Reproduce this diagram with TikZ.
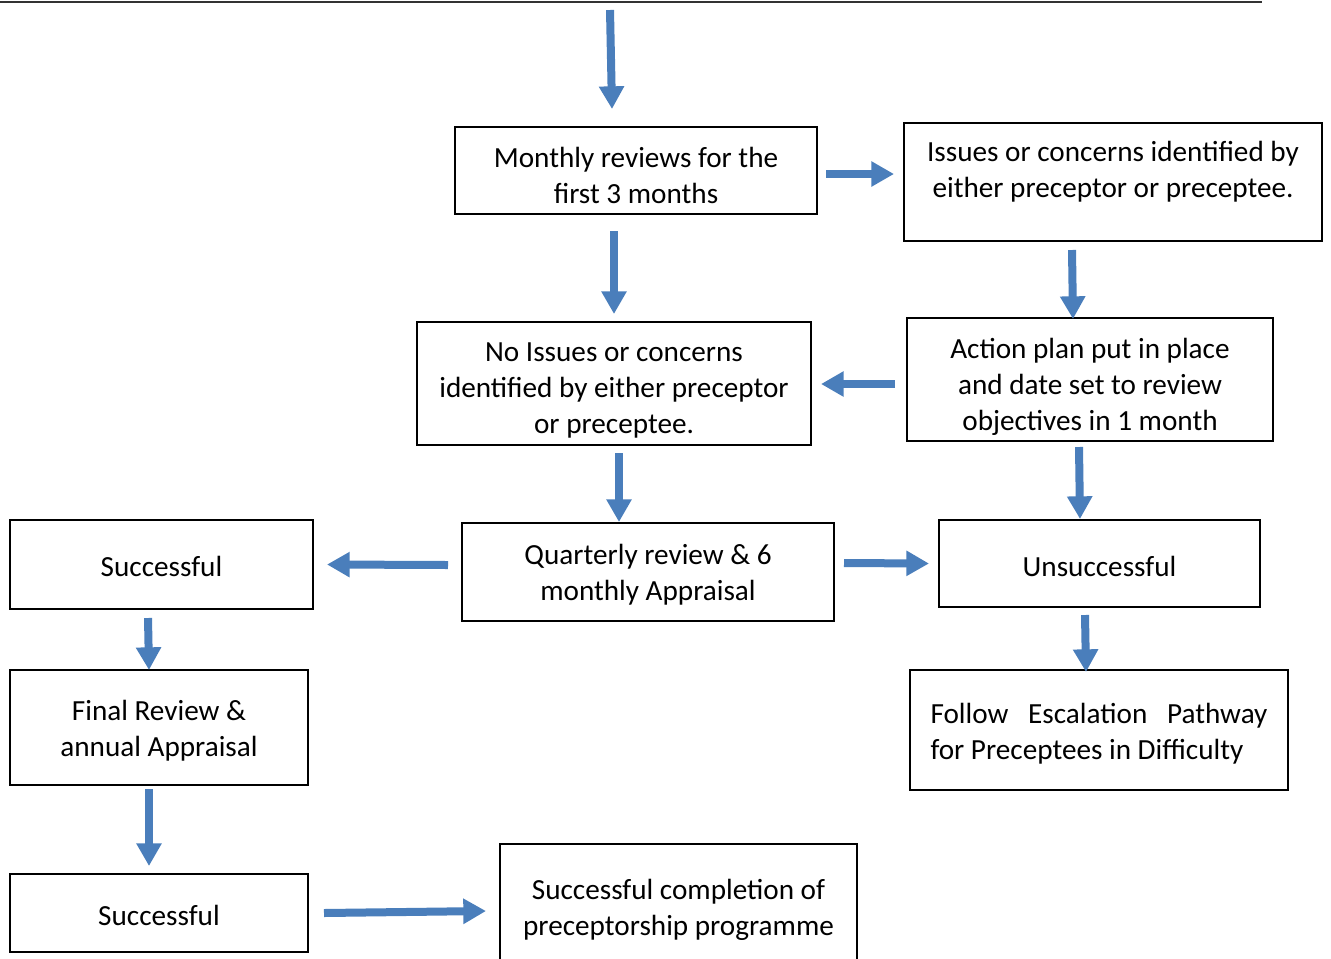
\documentclass[tikz,border=0pt]{standalone}
\usepackage{fontspec}
\setmainfont{Carlito}
\usepackage{tikz}
\usetikzlibrary{positioning,calc,arrows.meta}
\definecolor{FlowBlue}{RGB}{74,126,187}

\begin{document}
\begin{tikzpicture}[x=0.75pt, y=-0.75pt,
                % Style hộp
                box/.style={draw=black, line width=1.5pt, align=center, inner sep=0pt, text depth=0pt, font=\fontsize{21.9}{27}\selectfont},
                bsize/.style 2 args={minimum width=#1*0.75pt, minimum height=#2*0.75pt},
                lowtext/.style={execute at begin node={\rule{0pt}{#1}}},
                lowtext/.default=19pt,
                boxtext/.style={align=center, inner sep=0pt, font=\fontsize{21.9}{27}\selectfont},
                % Style mũi tên
                arrowedge/.style={-{Triangle[width=18pt, length=17pt]}, draw=FlowBlue, line width=6pt}
            ]
                \clip (0,0) rectangle (1331,958);

                % --- DÒNG TRÊN CÙNG ---
                \coordinate (topl) at (0,2);
                \coordinate (topr) at (1262,2);
                \coordinate (start) at (610,10);
                \draw[line width=1.5pt, draw=black!80] (topl) -- (topr);

                % --- CÁC HỘP ---
                % Cột giữa
                \node[box, text height=49pt, bsize={362}{87}] (mon) at (636,170.5) {Monthly reviews for the\\first 3 months};
                \node[box, text height=74.5pt, bsize={394}{123}] (noiss) at (614,383.5) {No Issues or concerns\\identified by either preceptor\\or preceptee.};
                \node[box, bsize={372}{98}] (quart) at (648,572) {Quarterly review \& 6\\monthly Appraisal};
                \node[box, bsize={357}{126}] (compl) at (678.5,907) {Successful completion of\\preceptorship programme};

                % Cột phải
                \node[box, bsize={418}{118}] (iss) at (1113,182) {};
                \node[boxtext, anchor=north] (isstext) at (1113,141) {Issues or concerns identified by\\either preceptor or preceptee.};
                \node[box, text height=76pt, bsize={366}{123}] (act) at (1090,379.5) {Action plan put in place\\and date set to review\\objectives in 1 month};
                \node[box, lowtext, bsize={321}{87}] (unsucc) at (1099.5,563.5) {Unsuccessful};
                \node[box, text height=44.5pt, bsize={378}{120}, align=left] (esc) at (1099,730) {\makebox[252.75pt][s]{Follow Escalation Pathway}\\for Preceptees in Difficulty};

                % Cột trái
                \node[box, lowtext=17.5pt, bsize={303}{89}] (succ) at (161.5,564.5) {Successful};
                \node[box, text height=44pt, bsize={298}{115}] (final) at (159,727.5) {Final Review \&\\annual Appraisal};
                \node[box, lowtext, bsize={298}{78}] (succb) at (159,913) {Successful};

                % --- MŨI TÊN ---
                \draw[arrowedge] (start) -- ($(mon.north)+(-24,-17)$);
                \draw[arrowedge] ($(mon.east)+(8,3.5)$) -- ($(iss.west)+(-9,-8)$);
                \draw[arrowedge] ($(mon.south)+(-22,16)$) -- ($(noiss.north)+(0,-7)$);
                \draw[arrowedge] ($(iss.south)+(-41,8)$) -- ($(act.north)+(-17,2)$);
                \draw[arrowedge] ($(act.west)+(-11,4.5)$) -- ($(noiss.east)+(9,0.5)$);
                \draw[arrowedge] ($(noiss.south)+(5,7)$) -- ($(quart.north)+(-29,0)$);
                \draw[arrowedge] ($(quart.west)+(-13,-7)$) -- ($(succ.east)+(13,0)$);
                \draw[arrowedge] ($(quart.east)+(9,-9)$) -- ($(unsucc.west)+(-9,0)$);
                \draw[arrowedge] ($(act.south)+(-11,5)$) -- ($(unsucc.north)+(-19.5,0)$);
                \draw[arrowedge] ($(succ.south)+(-13.5,8)$) -- ($(final.north)+(-10,1)$);
                \draw[arrowedge] ($(unsucc.south)+(-14.5,7)$) -- ($(esc.north)+(-13,3)$);
                \draw[arrowedge] ($(final.south)+(-10,3)$) -- ($(succb.north)+(-10,-7)$);
                \draw[arrowedge] ($(succb.east)+(15,0)$) -- ($(compl.west)+(-13,4)$);

            \end{tikzpicture}
\end{document}
